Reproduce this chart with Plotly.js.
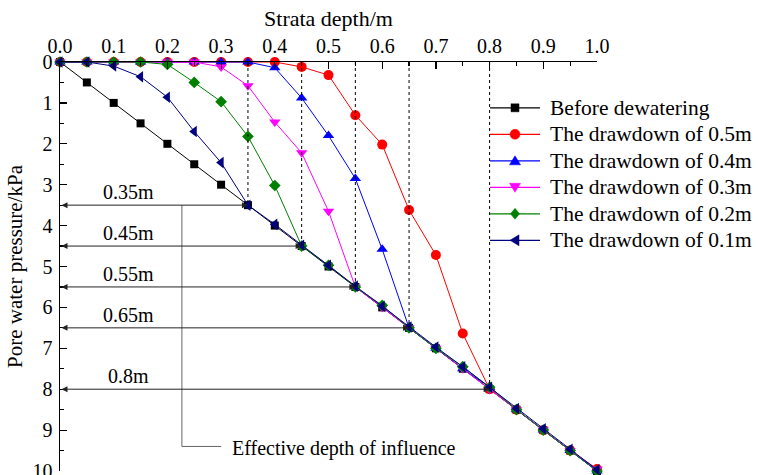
<!DOCTYPE html>
<html>
<head>
<meta charset="utf-8">
<script src="https://cdn.plot.ly/plotly-3.0.1.min.js"></script>
<style>html,body{margin:0;padding:0;background:#fff;}#chart{width:759px;height:475px;}</style>
</head>
<body>
<div id="chart"></div>
<script>
// Strata depth (m)
const depth = [0,0.05,0.1,0.15,0.2,0.25,0.3,0.35,0.4,0.45,0.5,0.55,0.6,0.65,0.7,0.75,0.8,0.85,0.9,0.95,1.0];
// Pore water pressure (kPa)
const beforeDewatering = [0,0.5,1,1.5,2,2.5,3,3.5,4,4.5,5,5.5,6,6.5,7,7.5,8,8.5,9,9.5,10];
const drawdown05 = [0,0,0,0,0,0,0,0,0,0.12,0.32,1.3,2.02,3.62,4.72,6.64,8.0,8.5,9.0,9.5,9.95];
const drawdown04 = [0,0,0,0,0,0,0,0,0.14,0.88,1.8,2.85,4.58,6.5,7.0,7.5,7.95,8.5,9.0,9.5,10];
const drawdown03 = [0,0,0,0,0,0,0.12,0.58,1.47,2.22,3.65,5.5,6.0,6.5,7.0,7.5,8.0,8.5,9.0,9.5,9.95];
const drawdown02 = [0,0,0,0,0.06,0.5,0.97,1.82,3.02,4.5,4.97,5.5,5.95,6.5,7.0,7.45,7.95,8.5,9.0,9.5,10];
const drawdown01 = [0,0,0.1,0.36,0.86,1.7,2.46,3.5,3.97,4.48,4.97,5.48,5.97,6.48,6.97,7.45,7.95,8.47,8.97,9.47,9.97];

const seriesNames = ["Before dewatering","The drawdown of 0.5m","The drawdown of 0.4m","The drawdown of 0.3m","The drawdown of 0.2m","The drawdown of 0.1m"];
const seriesColors = ["#000000","#ff0000","#0000ff","#ff00ff","#008000","#000080"];
const seriesSymbols = ["square","circle","triangle-up","triangle-down","diamond","triangle-left"];
const seriesValues = [beforeDewatering,drawdown05,drawdown04,drawdown03,drawdown02,drawdown01];

// Effective depth of influence annotations
const influenceDepths = [0.35,0.45,0.55,0.65,0.8];
const influencePressures = [3.5,4.5,5.5,6.5,8];
const influenceLabels = ["0.35m","0.45m","0.55m","0.65m","0.8m"];
const bracketX = 0.227, bracketBottom = 9.4, bracketEnd = 0.30;
const bracketText = "Effective depth of influence";

const FONT = "'Liberation Serif','Times New Roman',serif";
const markerSizes = {"square":8,"circle":10,"triangle-up":10,"triangle-down":10,"diamond":9,"triangle-left":10};
// legend marker outlines in pixels (y up)
const legendPaths = {
  "square":"M-4,-4H4V4H-4Z",
  "triangle-up":"M0,5L-5.5,-4L5.5,-4Z",
  "triangle-down":"M0,-5L-5.5,4L5.5,4Z",
  "diamond":"M0,5.5L4.5,0L0,-5.5L-4.5,0Z",
  "triangle-left":"M-5,0L4,5.5L4,-5.5Z"
};

const traces = seriesValues.map((v,i)=>({
  x: depth, y: v, type: 'scatter', mode: 'lines+markers', name: seriesNames[i],
  line: {color: seriesColors[i], width: 1},
  marker: {symbol: seriesSymbols[i], size: markerSizes[seriesSymbols[i]], color: seriesColors[i]},
  cliponaxis: false, showlegend: false
}));

const shapes = [];
const annotations = [];
influenceDepths.forEach((d,i)=>{
  shapes.push({type:'line', xref:'x', yref:'y', x0:d, x1:d, y0:0, y1:influencePressures[i],
    line:{color:'#000', width:1, dash:'dot'}});
  annotations.push({xref:'x', yref:'y', x:d, y:influencePressures[i], ax:0, ay:influencePressures[i],
    axref:'x', ayref:'y', showarrow:true, arrowside:'end+start', arrowhead:2, startarrowhead:2,
    arrowsize:1.2, startarrowsize:1.2, arrowwidth:1, arrowcolor:'#222', text:''});
  annotations.push({xref:'x', yref:'y', x:0.127, y:influencePressures[i]-0.32, text:influenceLabels[i],
    showarrow:false, font:{family:FONT, size:20, color:'#000'}});
});
shapes.push({type:'line', xref:'x', yref:'y', x0:bracketX, x1:bracketX, y0:influencePressures[0], y1:bracketBottom,
  line:{color:'#666', width:1}});
shapes.push({type:'line', xref:'x', yref:'y', x0:bracketX, x1:bracketEnd, y0:bracketBottom, y1:bracketBottom,
  line:{color:'#666', width:1}});
annotations.push({xref:'x', yref:'y', x:bracketEnd+0.016, y:bracketBottom+0.05, xanchor:'left', yanchor:'middle',
  text:bracketText, showarrow:false, font:{family:FONT, size:20, color:'#000'}});

// Hand-built legend (paper coordinates)
const legX = 0.8473, legTop = 0.888, legStep = 0.0648, legTextX = 0.916;
seriesNames.forEach((n,i)=>{
  const yy = legTop - i*legStep;
  const sym = seriesSymbols[i];
  shapes.push({type:'line', xref:'paper', yref:'paper', xsizemode:'pixel', xanchor:legX,
    x0:-25, x1:25, y0:yy, y1:yy, line:{color:seriesColors[i], width:1.2}});
  if (sym === 'circle') {
    shapes.push({type:'circle', xref:'paper', yref:'paper', xsizemode:'pixel', ysizemode:'pixel',
      xanchor:legX, yanchor:yy, x0:-5, x1:5, y0:-5, y1:5,
      fillcolor:seriesColors[i], line:{color:seriesColors[i], width:0.5}});
  } else {
    shapes.push({type:'path', xref:'paper', yref:'paper', xsizemode:'pixel', ysizemode:'pixel',
      xanchor:legX, yanchor:yy, path:legendPaths[sym],
      fillcolor:seriesColors[i], line:{color:seriesColors[i], width:0.5}});
  }
  annotations.push({xref:'paper', yref:'paper', x:legTextX, y:yy, xanchor:'left', yanchor:'middle', xshift:-4,
    text:n, showarrow:false, font:{family:FONT, size:21.5, color:'#000'}});
});

const layout = {
  width: 759, height: 475,
  margin: {l:60, r:162, t:62, b:4},
  paper_bgcolor:'#fff', plot_bgcolor:'#fff',
  font: {family: FONT, size: 20, color:'#000'},
  showlegend: false,
  xaxis: {side:'top', range:[0,1], dtick:0.1, tick0:0, tickformat:'.1f',
    ticks:'inside', ticklen:7, tickwidth:1.2, tickcolor:'#000',
    minor:{dtick:0.05, ticks:'inside', ticklen:4, tickcolor:'#000'},
    showline:true, linecolor:'#000', linewidth:1.5, showgrid:false, zeroline:false,
    tickfont:{family:FONT, size:20}, title:{text:'Strata depth/m', font:{family:FONT, size:22}, standoff:2}},
  yaxis: {range:[10,0], dtick:1, tick0:0, ticklabeloverflow:'allow', ticklabelstandoff:2,
    ticks:'inside', ticklen:7, tickwidth:1.2, tickcolor:'#000',
    minor:{dtick:0.5, ticks:'inside', ticklen:4, tickcolor:'#000'},
    showline:true, linecolor:'#000', linewidth:1.5, showgrid:false, zeroline:false,
    tickfont:{family:FONT, size:20}, title:{text:'Pore water pressure/kPa', font:{family:FONT, size:21}, standoff:4}},
  shapes: shapes,
  annotations: annotations
};

Plotly.newPlot('chart', traces, layout, {displayModeBar:false, staticPlot:true});
</script>
</body>
</html>
